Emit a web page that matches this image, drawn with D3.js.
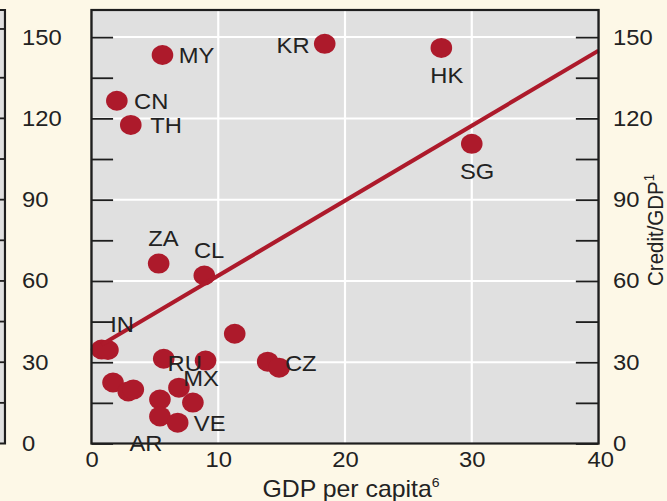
<!DOCTYPE html>
<html>
<head>
<meta charset="utf-8">
<script src="https://cdn.jsdelivr.net/npm/d3@7"></script>
<style>
  html, body { margin: 0; padding: 0; background: #fdf8e7; }
  svg { display: block; }
  text { font-family: "Liberation Sans", Arial, sans-serif; fill: #222; }
</style>
</head>
<body>
<div id="chart"></div>
<script>
// values
const countries = ["MY", "KR", "HK", "CN", "TH", "SG", "ZA", "CL", "", "IN", "", "RU", "", "CZ", "", "", "", "", "MX", "", "", "AR", "VE"];
const gdpPerCapita = [5.6, 18.4, 27.6, 2.0, 3.1, 30.0, 5.3, 8.9, 0.8, 1.3, 11.3, 5.7, 9.0, 13.9, 14.8, 1.7, 2.9, 3.3, 6.9, 5.4, 8.0, 5.4, 6.8];
const creditToGdp = [143.4, 147.5, 146, 126.5, 117.6, 110.6, 66.4, 62, 34.7, 34.5, 40.5, 31.3, 30.6, 30.2, 28, 22.5, 19.2, 19.9, 20.6, 16.2, 15.1, 10, 7.7];

const trendGdp = [0.8, 40];
const trendCredit = [36.5, 145];

const xTickValues = [0, 10, 20, 30, 40];
const yTickValues = [0, 15, 30, 45, 60, 75, 90, 105, 120, 135, 150];
const yLabelValues = [0, 30, 60, 90, 120, 150];
const stubTickValues = [15, 30, 45, 60, 75, 90, 105, 120, 135, 153];

// label placement next to each dot: [dx, dy, anchor]
const labelPos = {
  MY: [15, 0, "start"], KR: [-14, 1, "end"], HK: [5, 27, "middle"],
  CN: [16, 0, "start"], TH: [18, 0, "start"], SG: [5, 27, "middle"],
  ZA: [4.5, -26, "middle"], CL: [4.5, -25, "middle"], IN: [13, -26, "middle"],
  RU: [3.5, 4, "start"], CZ: [16, 1, "start"], MX: [4, -10, "start"],
  VE: [15, 0, "start"], AR: [-13, 27, "middle"]
};

const points = countries.map((c, i) => ({ code: c, gdp: gdpPerCapita[i], credit: creditToGdp[i] }));

// the original is slightly stretched horizontally
const stretch = 1.08;
const W = 667, H = 501;
const iw = W / stretch;

const margin = { top: 10, right: iw - 554.2, bottom: H - 443.5, left: 84.7 };
const red = "#ad1a2b";
const ink = "#1e1e1e";

const svg = d3.select("#chart").append("svg")
  .attr("width", W).attr("height", H)
  .attr("viewBox", [0, 0, iw, H])
  .attr("preserveAspectRatio", "none");

const x = d3.scaleLinear().domain([0, 40]).range([margin.left, iw - margin.right]);
const y = d3.scaleLinear().domain([0, 160]).range([H - margin.bottom, margin.top]);

// left neighbour panel stub
svg.append("rect")
  .attr("x", -10).attr("y", margin.top)
  .attr("width", 14.6).attr("height", y(0) - margin.top)
  .attr("fill", "#e0e0e0").attr("stroke", ink).attr("stroke-width", 2);
svg.append("g").selectAll("line").data(stubTickValues).join("line")
  .attr("x1", -2).attr("x2", 4.6)
  .attr("y1", d => y(d)).attr("y2", d => y(d))
  .attr("stroke", ink).attr("stroke-width", 1.8);

// plot background
svg.append("rect")
  .attr("x", x(0)).attr("y", margin.top)
  .attr("width", x(40) - x(0)).attr("height", y(0) - margin.top)
  .attr("fill", "#e0e0e0");

// grid
const grid = svg.append("g").attr("stroke", "#fff").attr("stroke-width", 2);
grid.selectAll(".gy").data(yLabelValues.filter(d => d > 0)).join("line")
  .attr("x1", x(0)).attr("x2", x(40))
  .attr("y1", d => y(d)).attr("y2", d => y(d));
grid.selectAll(".gx").data(xTickValues.filter(d => d > 0 && d < 40)).join("line")
  .attr("x1", d => x(d)).attr("x2", d => x(d))
  .attr("y1", margin.top).attr("y2", y(0));

// axes
const fmtY = d => (yLabelValues.includes(d) ? d : "");

const gLeft = svg.append("g")
  .attr("transform", `translate(${x(0)},0)`)
  .call(d3.axisLeft(y).tickValues(yTickValues).tickSize(-20).tickFormat(fmtY));
gLeft.selectAll("text").attr("x", 20.4 - x(0)).attr("text-anchor", "start");

const gRight = svg.append("g")
  .attr("transform", `translate(${x(40)},0)`)
  .call(d3.axisRight(y).tickValues(yTickValues).tickSize(-21).tickFormat(fmtY));
gRight.selectAll("text").attr("x", 13.4);

const gBottom = svg.append("g")
  .attr("transform", `translate(0,${y(0)})`)
  .call(d3.axisBottom(x).tickValues(xTickValues).tickSize(0).tickPadding(8).tickFormat(d => d));
// the "40" sits a little right of the frame corner
gBottom.selectAll(".tick text").filter(d => d === 40).attr("dx", 1.5);

[gLeft, gRight, gBottom].forEach(g => {
  g.select(".domain").remove();
  g.selectAll("line").attr("stroke", ink).attr("stroke-width", 1.8);
  g.selectAll("text").attr("font-size", 22).attr("fill", "#222")
    .attr("font-family", '"Liberation Sans", Arial, sans-serif');
});

// dots
svg.append("g").attr("fill", red)
  .selectAll("circle").data(points).join("circle")
  .attr("cx", d => x(d.gdp)).attr("cy", d => y(d.credit)).attr("r", 10);

// regression line
svg.append("path")
  .datum(trendGdp.map((g, i) => [g, trendCredit[i]]))
  .attr("fill", "none").attr("stroke", red).attr("stroke-width", 4)
  .attr("d", d3.line().x(d => x(d[0])).y(d => y(d[1])));

// frame
svg.append("rect")
  .attr("x", x(0)).attr("y", margin.top)
  .attr("width", x(40) - x(0)).attr("height", y(0) - margin.top)
  .attr("fill", "none").attr("stroke", ink).attr("stroke-width", 2.2);

// country labels
svg.append("g").selectAll("text")
  .data(points.filter(d => d.code))
  .join("text")
  .attr("x", d => x(d.gdp) + labelPos[d.code][0])
  .attr("y", d => y(d.credit) + labelPos[d.code][1])
  .attr("dy", "0.36em")
  .attr("text-anchor", d => labelPos[d.code][2])
  .attr("font-size", 22)
  .text(d => d.code);

// axis titles
const xt = svg.append("text")
  .attr("x", 325).attr("y", 497)
  .attr("text-anchor", "middle").attr("font-size", 23)
  .text("GDP per capita");
xt.append("tspan").attr("font-size", 13).attr("dy", -10).text("6");

const yt = svg.append("text")
  .attr("transform", "translate(614,230) rotate(-90)")
  .attr("text-anchor", "middle").attr("font-size", 20.5)
  .text("Credit/GDP");
yt.append("tspan").attr("font-size", 13).attr("dy", -8).text("1");
</script>
</body>
</html>
